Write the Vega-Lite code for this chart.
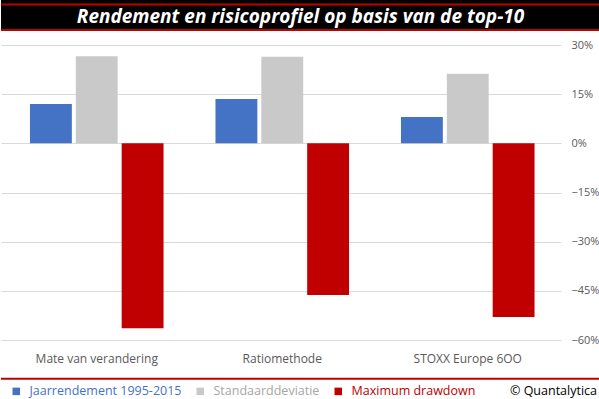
{
  "$schema": "https://vega.github.io/schema/vega-lite/v6.json",
  "padding": 0,
  "spacing": 7,
  "config": {"view": {"stroke": null}, "font": "Open Sans"},
  "vconcat": [
    {
      "width": 599,
      "height": 31,
      "view": {"fill": "#000000", "stroke": null},
      "layer": [
        {
          "data": {"values": [{"pos": 1}, {"pos": 30}]},
          "mark": {"type": "rule", "color": "#C00000", "strokeWidth": 2},
          "encoding": {
            "y": {"field": "pos", "type": "quantitative", "scale": {"domain": [0, 31]}, "axis": null}
          }
        },
        {
          "data": {"values": [{"t": "Rendement en risicoprofiel op basis van de top-10"}]},
          "mark": {"type": "text", "color": "#FFFFFF", "fontSize": 19, "fontWeight": "bold", "fontStyle": "italic", "align": "center", "baseline": "middle"},
          "encoding": {
            "text": {"field": "t"},
            "x": {"datum": 0.5, "type": "quantitative", "scale": {"domain": [0, 1]}, "axis": null},
            "y": {"datum": 15.5, "type": "quantitative"}
          }
        }
      ]
    },
    {
      "width": 560,
      "height": 295,
      "data": {"values": [
        {"cat": "Mate van verandering", "series": "Jaarrendement 1995-2015", "value": 0.12},
        {"cat": "Mate van verandering", "series": "Standaarddeviatie", "value": 0.266},
        {"cat": "Mate van verandering", "series": "Maximum drawdown", "value": -0.564},
        {"cat": "Ratiomethode", "series": "Jaarrendement 1995-2015", "value": 0.135},
        {"cat": "Ratiomethode", "series": "Standaarddeviatie", "value": 0.264},
        {"cat": "Ratiomethode", "series": "Maximum drawdown", "value": -0.463},
        {"cat": "STOXX Europe 6OO", "series": "Jaarrendement 1995-2015", "value": 0.08},
        {"cat": "STOXX Europe 6OO", "series": "Standaarddeviatie", "value": 0.212},
        {"cat": "STOXX Europe 6OO", "series": "Maximum drawdown", "value": -0.53}
      ]},
      "mark": {"type": "bar"},
      "encoding": {
        "x": {
          "field": "cat", "type": "nominal", "sort": null,
          "scale": {"paddingInner": 0.28, "paddingOuter": 0.1494, "align": 0.5226},
          "axis": {"title": null, "labelAngle": 0, "domain": false, "ticks": false, "labelPadding": 13, "labelFontSize": 12, "labelColor": "#595959", "labelFont": "Open Sans"}
        },
        "xOffset": {
          "field": "series", "type": "nominal",
          "sort": ["Jaarrendement 1995-2015", "Standaarddeviatie", "Maximum drawdown"],
          "scale": {"paddingInner": 0.087, "paddingOuter": 0}
        },
        "y": {
          "field": "value", "type": "quantitative",
          "scale": {"domain": [-0.6, 0.3], "nice": false},
          "axis": {"orient": "right", "title": null, "values": [-0.6, -0.45, -0.3, -0.15, 0, 0.15, 0.3], "format": ".0%", "domain": false, "ticks": false, "labelPadding": 10, "labelFontSize": 11, "labelColor": "#595959", "labelFont": "Open Sans", "gridColor": "#D9D9D9", "gridWidth": 1}
        },
        "color": {
          "field": "series", "type": "nominal",
          "sort": ["Jaarrendement 1995-2015", "Standaarddeviatie", "Maximum drawdown"],
          "scale": {"domain": ["Jaarrendement 1995-2015", "Standaarddeviatie", "Maximum drawdown"], "range": ["#4472C4", "#C9C9C9", "#C00000"]},
          "legend": {
            "title": null, "orient": "none", "legendX": 9, "legendY": 385, "direction": "horizontal",
            "symbolType": "square", "symbolSize": 56, "symbolStrokeWidth": 0, "labelFontSize": 12.5, "labelFont": "Open Sans",
            "labelOffset": 7, "columnPadding": 12, "padding": 0,
            "encode": {"labels": {"update": {"fill": {"signal": "datum.value === 'Jaarrendement 1995-2015' ? '#4472C4' : datum.value === 'Standaarddeviatie' ? '#A6A6A6' : '#C00000'"}}}}
          }
        }
      }
    },
    {
      "width": 599,
      "height": 27,
      "layer": [
        {
          "data": {"values": [{"pos": 20}]},
          "mark": {"type": "rule", "color": "#C00000", "strokeWidth": 2},
          "encoding": {
            "y": {"field": "pos", "type": "quantitative", "scale": {"domain": [0, 27]}, "axis": null}
          }
        },
        {
          "data": {"values": [{"t": "© Quantalytica"}]},
          "mark": {"type": "text", "color": "#000000", "fontSize": 12.5, "align": "right", "baseline": "middle", "dx": -3},
          "encoding": {
            "text": {"field": "t"},
            "x": {"datum": 1, "type": "quantitative", "scale": {"domain": [0, 1]}, "axis": null},
            "y": {"datum": 7, "type": "quantitative"}
          }
        }
      ]
    }
  ]
}
